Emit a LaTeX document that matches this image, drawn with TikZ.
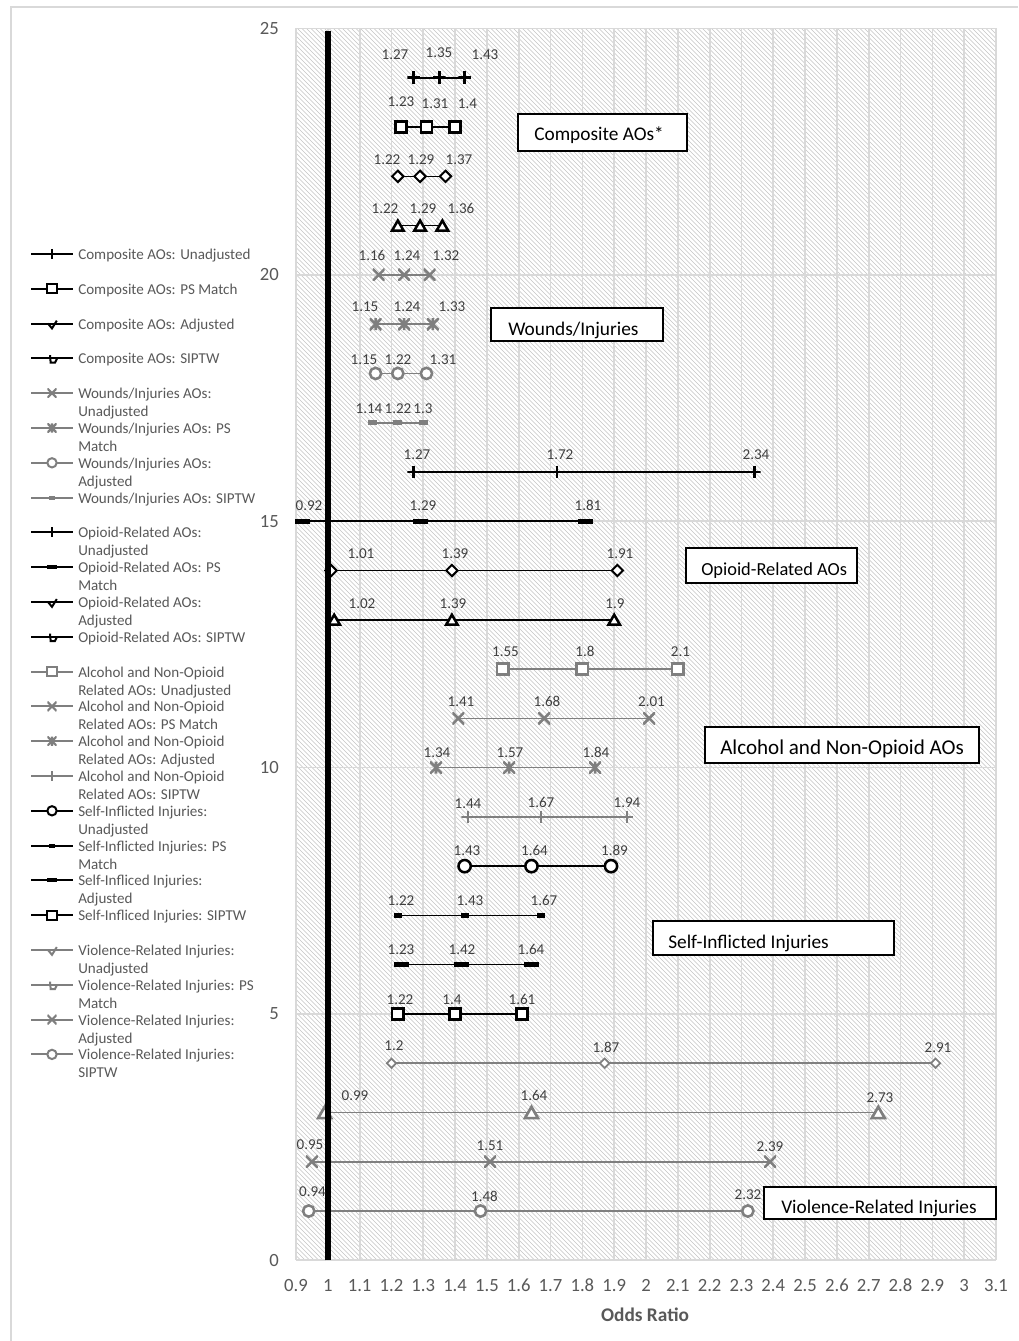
\documentclass[tikz,border=0pt]{standalone}
\usepackage{fontspec}
\setmainfont{Carlito}
\usetikzlibrary{shapes.geometric}
\definecolor{tickc}{HTML}{595959}
\definecolor{labc}{HTML}{404040}
\definecolor{grdc}{HTML}{D9D9D9}
\definecolor{hatc}{HTML}{C4C4C4}
\definecolor{serg}{HTML}{7F7F7F}
\tikzset{
 mk/.style={inner sep=0pt, outer sep=0pt},
 sqmk/.style 2 args={mk, rectangle, draw=#1, fill=white, line width=#2},
 diamk/.style 2 args={mk, diamond, draw=#1, fill=white, line width=#2},
 trimk/.style 2 args={mk, regular polygon, regular polygon sides=3, draw=#1, fill=white, line width=#2},
 circmk/.style 2 args={mk, circle, draw=#1, fill=white, line width=#2},
 xmk/.style 2 args={mk, rectangle, path picture={\draw[#1,line width=#2] (path picture bounding box.north west) -- (path picture bounding box.south east) (path picture bounding box.south west) -- (path picture bounding box.north east);}},
 starmk/.style 2 args={mk, rectangle, path picture={\draw[#1,line width=#2] (path picture bounding box.north west) -- (path picture bounding box.south east) (path picture bounding box.south west) -- (path picture bounding box.north east) (path picture bounding box.north) -- (path picture bounding box.south);}},
 plusmk/.style 2 args={mk, rectangle, path picture={\draw[#1,line width=#2] (path picture bounding box.north) -- (path picture bounding box.south) (path picture bounding box.west) -- (path picture bounding box.east);}},
 dashmk/.style={mk, rectangle, fill=#1},
 chkmk/.style={mk, rectangle, minimum size=12pt, path picture={\draw[#1,line width=1.5pt] ([shift={(-3pt,0pt)}]path picture bounding box.center) -- ([shift={(0pt,-3.6pt)}]path picture bounding box.center) -- ([shift={(3.6pt,2.2pt)}]path picture bounding box.center);}},
 stepmk/.style={mk, rectangle, minimum size=12pt, path picture={\draw[#1,line width=1.5pt] ([shift={(-1.5pt,2.4pt)}]path picture bounding box.center) -- ([shift={(-1pt,-3.2pt)}]path picture bounding box.center) -- ([shift={(2.2pt,-3.2pt)}]path picture bounding box.center) -- ([shift={(3.8pt,0pt)}]path picture bounding box.center);}},
 conn/.style={line width=1.2pt},
 legline/.style={line width=1.4pt},
 hatch/.style={draw=hatc, line width=0.5pt},
 grid/.style={draw=grdc, line width=1.3pt},
 dlab/.style={text=labc, font=\fontsize{11.3}{13}\selectfont, inner sep=0pt, anchor=base},
 ytick/.style={text=tickc, font=\fontsize{14}{16}\selectfont, inner sep=0pt, anchor=base east},
 xtick/.style={text=tickc, font=\fontsize{14}{16}\selectfont, inner sep=0pt, anchor=base},
 legtxt/.style={text=tickc, font=\fontsize{11.3}{13.5}\selectfont, inner sep=0pt, anchor=base west},
 tbox/.style={draw=black, fill=white, line width=1.1pt, inner sep=0pt},
 btxt/.style={text=black, inner sep=0pt, anchor=base west, font=\fontsize{14.5}{16}\selectfont}
}
\newcommand\ser[7]{%
 \coordinate (#1a) at ({296+(#5-0.9)*318.18},{1260.3-(#2)*49.27});
 \coordinate (#1b) at ({296+(#6-0.9)*318.18},{1260.3-(#2)*49.27});
 \coordinate (#1c) at ({296+(#7-0.9)*318.18},{1260.3-(#2)*49.27});
 \draw[conn,#4] (#1a) -- (#1b) -- (#1c);
 \node[#3] (#1ma) at (#1a) {};
 \node[#3] (#1mb) at (#1b) {};
 \node[#3] (#1mc) at (#1c) {};
}
\newcommand\dl[4]{\node[dlab] (#1) at (#2,{#3+4.8}) {#4};}
\newcommand\leg[5]{%
 \pgfmathsetmacro\ly{254+34.8*#2}
 \coordinate (#1s) at (31,\ly);
 \coordinate (#1e) at (73,\ly);
 \draw[legline,#3] (#1s) -- (#1e);
 \node[#4] (#1m) at (52,\ly) {};
 \node[legtxt] (#1t) at (78,{\ly+5.5}) {\parbox[t]{170pt}{#5}};
}
\begin{document}
\begin{tikzpicture}[x=0.75pt,y=-0.75pt]
\useasboundingbox (0,0) rectangle (1018,1341);
\fill[white] (0,0) rectangle (1018,1341);
\draw[grdc, line width=0.8pt] (11,1341) -- (11,7) -- (1018,7);
% hatched plot area
\begin{scope}
\clip (296,28.5) rectangle (996,1260.3);
\foreach \i in {-940,-935.5,...,1000} \draw[hatch] (\i,28.5) -- ++(1232,1232);
\end{scope}
% grid
\foreach \i in {0,...,22} \draw[grid] ({296+31.818*\i},28.5) -- ({296+31.818*\i},1260.3);
\foreach \v in {0,5,...,25} \draw[grid] (296,{1260.3-49.27*\v}) -- (996,{1260.3-49.27*\v});
% series
\ser{r24}{24}{plusmk={black}{2pt},minimum size=9.5pt}{black}{1.27}{1.35}{1.43}
\ser{r23}{23}{sqmk={black}{1.9pt},minimum size=8.5pt}{black}{1.23}{1.31}{1.4}
\ser{r22}{22}{diamk={black}{1.5pt},minimum size=8.5pt}{black}{1.22}{1.29}{1.37}
\ser{r21}{21}{trimk={black}{1.9pt},minimum size=10pt,yshift=-1.2pt}{black}{1.22}{1.29}{1.36}
\ser{r20}{20}{xmk={serg}{1.9pt},minimum size=9pt}{serg}{1.16}{1.24}{1.32}
\ser{r19}{19}{starmk={serg}{1.9pt},minimum size=9pt}{serg}{1.15}{1.24}{1.33}
\ser{r18}{18}{circmk={serg}{1.9pt},minimum size=8.5pt}{serg}{1.15}{1.22}{1.31}
\ser{r17}{17}{dashmk=serg,minimum width=6.75pt,minimum height=3.75pt}{serg}{1.14}{1.22}{1.3}
\ser{r16}{16}{plusmk={black}{2pt},minimum size=9.5pt}{black}{1.27}{1.72}{2.34}
\ser{r15}{15}{dashmk=black,minimum width=11.25pt,minimum height=3.75pt}{black}{0.92}{1.29}{1.81}
\ser{r14}{14}{diamk={black}{1.5pt},minimum size=8.5pt}{black}{1.01}{1.39}{1.91}
\ser{r13}{13}{trimk={black}{1.9pt},minimum size=10pt,yshift=-1.2pt}{black}{1.02}{1.39}{1.9}
\ser{r12}{12}{sqmk={serg}{1.9pt},minimum size=8.5pt}{serg}{1.55}{1.8}{2.1}
\ser{r11}{11}{xmk={serg}{1.9pt},minimum size=9pt}{serg}{1.41}{1.68}{2.01}
\ser{r10}{10}{starmk={serg}{1.9pt},minimum size=9pt}{serg}{1.34}{1.57}{1.84}
\ser{r9}{9}{plusmk={serg}{1.9pt},minimum size=9.5pt}{serg}{1.44}{1.67}{1.94}
\ser{r8}{8}{circmk={black}{1.9pt},minimum size=9.2pt}{black}{1.43}{1.64}{1.89}
\ser{r7}{7}{dashmk=black,minimum width=6pt,minimum height=3.75pt}{black}{1.22}{1.43}{1.67}
\ser{r6}{6}{dashmk=black,minimum width=11.25pt,minimum height=3.75pt}{black}{1.23}{1.42}{1.64}
\ser{r5}{5}{sqmk={black}{1.9pt},minimum size=8.5pt}{black}{1.22}{1.4}{1.61}
\ser{r4}{4}{diamk={serg}{1.3pt},minimum size=7pt}{serg}{1.2}{1.87}{2.91}
\ser{r3}{3}{trimk={serg}{2pt},minimum size=11.3pt,yshift=-1.4pt}{serg}{0.99}{1.64}{2.73}
\ser{r2}{2}{xmk={serg}{1.9pt},minimum size=9pt}{serg}{0.95}{1.51}{2.39}
\ser{r1}{1}{circmk={serg}{1.9pt},minimum size=8.5pt}{serg}{0.94}{1.48}{2.32}
% reference line at OR = 1
\coordinate (one0) at ({296+0.1*318.18},1260.3);
\coordinate (one25) at ({296+0.1*318.18},31);
\draw[line width=4.9pt] (one0) -- (one25);
% data labels
\dl{l24a}{395}{55}{1.27}\dl{l24b}{439}{53}{1.35}\dl{l24c}{485}{55}{1.43}
\dl{l23a}{401}{102}{1.23}\dl{l23b}{435}{104}{1.31}\dl{l23c}{467.5}{104}{1.4}
\dl{l22a}{387}{160}{1.22}\dl{l22b}{421}{160}{1.29}\dl{l22c}{459}{160}{1.37}
\dl{l21a}{385}{209}{1.22}\dl{l21b}{423}{209}{1.29}\dl{l21c}{461}{209}{1.36}
\dl{l20a}{372}{256}{1.16}\dl{l20b}{407}{256}{1.24}\dl{l20c}{446}{256}{1.32}
\dl{l19a}{365}{307}{1.15}\dl{l19b}{407}{307}{1.24}\dl{l19c}{452}{307}{1.33}
\dl{l18a}{364}{360}{1.15}\dl{l18b}{398}{360}{1.22}\dl{l18c}{443}{360}{1.31}
\dl{l17a}{369}{409}{1.14}\dl{l17b}{398}{409}{1.22}\dl{l17c}{423}{409}{1.3}
\dl{l16a}{417}{455}{1.27}\dl{l16b}{560}{455}{1.72}\dl{l16c}{756}{455}{2.34}
\dl{l15a}{309}{506}{0.92}\dl{l15b}{423}{506}{1.29}\dl{l15c}{588}{506}{1.81}
\dl{l14a}{361}{554}{1.01}\dl{l14b}{455}{554}{1.39}\dl{l14c}{620}{554}{1.91}
\dl{l13a}{362}{604}{1.02}\dl{l13b}{453}{604}{1.39}\dl{l13c}{615}{604}{1.9}
\dl{l12a}{505.5}{652}{1.55}\dl{l12b}{585}{652}{1.8}\dl{l12c}{680.5}{652}{2.1}
\dl{l11a}{461}{702}{1.41}\dl{l11b}{547}{702}{1.68}\dl{l11c}{651.5}{702}{2.01}
\dl{l10a}{437}{753}{1.34}\dl{l10b}{510}{753}{1.57}\dl{l10c}{596}{753}{1.84}
\dl{l9a}{468}{804}{1.44}\dl{l9b}{541}{803}{1.67}\dl{l9c}{627}{803}{1.94}
\dl{l8a}{467}{851}{1.43}\dl{l8b}{534.5}{851}{1.64}\dl{l8c}{614.5}{851}{1.89}
\dl{l7a}{401}{901}{1.22}\dl{l7b}{470}{901}{1.43}\dl{l7c}{544}{901}{1.67}
\dl{l6a}{401}{950}{1.23}\dl{l6b}{462}{950}{1.42}\dl{l6c}{531}{950}{1.64}
\dl{l5a}{400}{999.5}{1.22}\dl{l5b}{452}{999.5}{1.4}\dl{l5c}{522}{999.5}{1.61}
\dl{l4a}{394}{1046}{1.2}\dl{l4b}{606}{1048}{1.87}\dl{l4c}{938}{1048}{2.91}
\dl{l3a}{355}{1095.5}{0.99}\dl{l3b}{534}{1096}{1.64}\dl{l3c}{880}{1098}{2.73}
\dl{l2a}{310}{1145}{0.95}\dl{l2b}{490}{1146}{1.51}\dl{l2c}{770}{1147}{2.39}
\dl{l1a}{312.5}{1192}{0.94}\dl{l1b}{484.5}{1197}{1.48}\dl{l1c}{748}{1195}{2.32}
% text boxes
\node[tbox, minimum width=126.75pt, minimum height=27.75pt] (bcomp) at (602.5,132.5) {};
\node[btxt] (tcomp) at (534,141) {Composite AOs*};
\node[tbox, minimum width=129pt, minimum height=24.75pt] (bwound) at (577,324.5) {};
\node[btxt] (twound) at (508,335.5) {Wounds/Injuries};
\node[tbox, minimum width=128.25pt, minimum height=26.25pt] (bopi) at (771.5,565.5) {};
\node[btxt, font=\fontsize{13.8}{16}\selectfont] (topi) at (701,575.5) {Opioid-Related AOs};
\node[tbox, minimum width=205.5pt, minimum height=27pt] (balc) at (842,745) {};
\node[btxt, font=\fontsize{15.8}{18}\selectfont] (talc) at (720,754) {Alcohol and Non-Opioid AOs};
\node[tbox, minimum width=180.75pt, minimum height=25.5pt] (bself) at (773.5,938) {};
\node[btxt] (tself) at (668,948.5) {Self-Inflicted Injuries};
\node[tbox, minimum width=174pt, minimum height=24pt] (bviol) at (880,1203) {};
\node[btxt] (tviol) at (781,1213.5) {Violence-Related Injuries};
% axes labels
\foreach \v in {0,5,...,25} \node[ytick] at (279,{1266.3-49.27*\v}) {\v};
\foreach \i/\t in {0/0.9,1/1,2/1.1,3/1.2,4/1.3,5/1.4,6/1.5,7/1.6,8/1.7,9/1.8,10/1.9,11/2,12/2.1,13/2.2,14/2.3,15/2.4,16/2.5,17/2.6,18/2.7,19/2.8,20/2.9,21/3,22/3.1}
  \node[xtick] at ({296+31.818*\i},1291) {\t};
\node[text=tickc, font=\fontsize{14.5}{16}\selectfont\bfseries, inner sep=0pt, anchor=base] (xtitle) at (645,1321) {Odds Ratio};
% legend
\leg{g0}{0}{black}{plusmk={black}{1.6pt},minimum size=7.5pt}{Composite AOs: Unadjusted}
\leg{g1}{1}{black}{sqmk={black}{1.5pt},minimum size=7pt}{Composite AOs: PS Match}
\leg{g2}{2}{black}{chkmk=black}{Composite AOs: Adjusted}
\leg{g3}{3}{black}{stepmk=black}{Composite AOs: SIPTW}
\leg{g4}{4}{serg}{xmk={serg}{1.6pt},minimum size=7pt}{Wounds/Injuries AOs:\\Unadjusted}
\leg{g5}{5}{serg}{starmk={serg}{1.6pt},minimum size=7pt}{Wounds/Injuries AOs: PS\\Match}
\leg{g6}{6}{serg}{circmk={serg}{1.5pt},minimum size=7pt}{Wounds/Injuries AOs:\\Adjusted}
\leg{g7}{7}{serg}{dashmk=serg,minimum width=5pt,minimum height=3pt}{Wounds/Injuries AOs: SIPTW}
\leg{g8}{8}{black}{plusmk={black}{1.6pt},minimum size=7.5pt}{Opioid-Related AOs:\\Unadjusted}
\leg{g9}{9}{black}{dashmk=black,minimum width=7.5pt,minimum height=3pt}{Opioid-Related AOs: PS\\Match}
\leg{g10}{10}{black}{chkmk=black}{Opioid-Related AOs:\\Adjusted}
\leg{g11}{11}{black}{stepmk=black}{Opioid-Related AOs: SIPTW}
\leg{g12}{12}{serg}{sqmk={serg}{1.5pt},minimum size=7pt}{Alcohol and Non-Opioid\\Related AOs: Unadjusted}
\leg{g13}{13}{serg}{xmk={serg}{1.6pt},minimum size=7pt}{Alcohol and Non-Opioid\\Related AOs: PS Match}
\leg{g14}{14}{serg}{starmk={serg}{1.6pt},minimum size=7pt}{Alcohol and Non-Opioid\\Related AOs: Adjusted}
\leg{g15}{15}{serg}{plusmk={serg}{1.6pt},minimum size=7.5pt}{Alcohol and Non-Opioid\\Related AOs: SIPTW}
\leg{g16}{16}{black}{circmk={black}{1.5pt},minimum size=7pt}{Self-Inflicted Injuries:\\Unadjusted}
\leg{g17}{17}{black}{dashmk=black,minimum width=4.5pt,minimum height=3pt}{Self-Inflicted Injuries: PS\\Match}
\leg{g18}{18}{black}{dashmk=black,minimum width=7.5pt,minimum height=3pt}{Self-Infliced Injuries:\\Adjusted}
\leg{g19}{19}{black}{sqmk={black}{1.5pt},minimum size=7pt}{Self-Infliced Injuries: SIPTW}
\leg{g20}{20}{serg}{chkmk=serg}{Violence-Related Injuries:\\Unadjusted}
\leg{g21}{21}{serg}{stepmk=serg}{Violence-Related Injuries: PS\\Match}
\leg{g22}{22}{serg}{xmk={serg}{1.6pt},minimum size=7pt}{Violence-Related Injuries:\\Adjusted}
\leg{g23}{23}{serg}{circmk={serg}{1.5pt},minimum size=7pt}{Violence-Related Injuries:\\SIPTW}
\end{tikzpicture}
\end{document}
